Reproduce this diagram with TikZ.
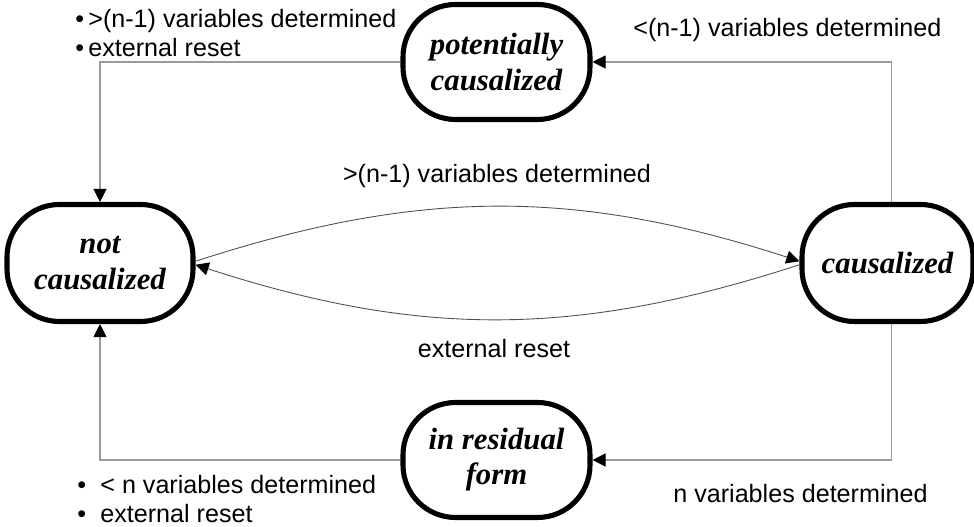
\documentclass[tikz,border=0pt]{standalone}
\usepackage{fontspec}
\setmainfont{Liberation Serif}
\setsansfont{Liberation Sans}
\usepackage{tikz}
\usetikzlibrary{positioning,arrows.meta}
\definecolor{ink}   {HTML}{000000}
\definecolor{wire}  {HTML}{9A9A9A}
\definecolor{arc}   {HTML}{505050}

\begin{document}
\begin{tikzpicture}[
  font=\sffamily\fontsize{14.3}{17}\selectfont,
  state/.style={draw=ink, line width=2.9pt, rounded corners=1.05cm,
                minimum width=3.74cm, minimum height=2.3cm, align=center,
                inner sep=2pt, font=\rmfamily\bfseries\itshape\fontsize{17.5}{20}\selectfont},
  wirearrow/.style={draw=wire, line width=0.6pt,
                    -{Triangle[length=7.5pt,width=7.5pt,color=ink]}},
  arcarrow/.style={draw=arc, line width=0.5pt,
                   -{Triangle[length=7.5pt,width=7.5pt,color=ink]}},
  cond/.style={inner sep=0pt, align=left}
]
\useasboundingbox (0,0) rectangle (19.48,10.54);

\node[state, minimum width=3.72cm, minimum height=2.34cm] (notc) at (2.00,5.28) {not\\causalized};
\node[state, minimum width=3.42cm, minimum height=2.34cm] (caus) at (17.75,5.28) {causalized};
\node[state] (pot) at (9.93,9.30) {potentially\\causalized};
\node[state] (res) at (9.93,1.34) {in residual\\form};

% labels
\node[cond, anchor=west] (lblpot) at (1.50,9.88)
  {\makebox[0.26cm][l]{•}>(n-1) variables determined\\[-1pt]
   \makebox[0.26cm][l]{•}external reset};
\node[cond, anchor=west] (lblcaus) at (12.66,9.94) {<(n-1) variables determined};
\node[cond] (lblup) at (9.94,7.02) {>(n-1) variables determined};
\node[cond] (lbldown) at (9.88,3.56) {external reset};
\node[cond, anchor=west] (lblres) at (13.46,0.66) {n variables determined};
\node[cond, anchor=west] (lblnot) at (1.54,0.56)
  {\makebox[0.46cm][l]{•}< n variables determined\\[-1pt]
   \makebox[0.46cm][l]{•}external reset};

% transitions
\draw[wirearrow] ([xshift=0.08cm]caus.north) |- (pot.east);
\draw[wirearrow] (pot.west) -| (notc.north);
\draw[wirearrow] ([xshift=0.08cm]caus.south) |- (res.east);
\draw[wirearrow] (res.west) -| (notc.south);
\draw[arcarrow] ([yshift=1pt]notc.east) to[bend left=18] ([yshift=1pt]caus.west);
\draw[arcarrow] ([yshift=-1pt]caus.west) to[bend left=18] ([yshift=-1pt]notc.east);
\end{tikzpicture}
\end{document}
